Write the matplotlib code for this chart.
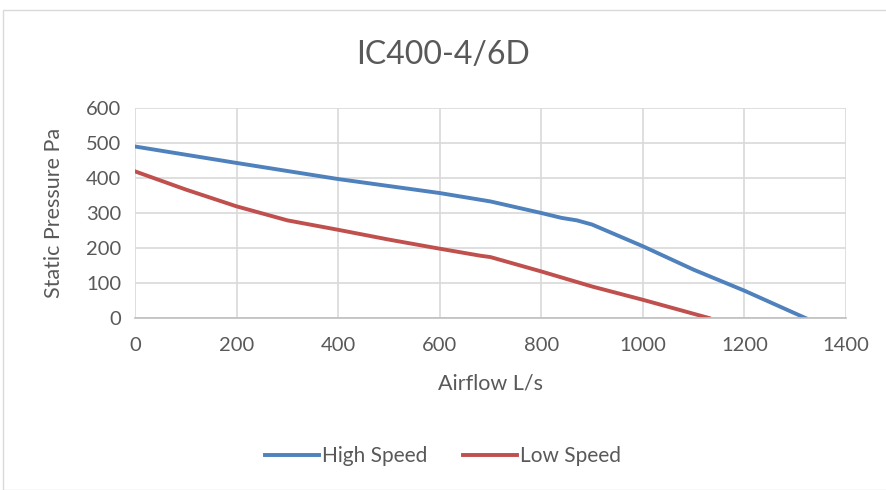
import matplotlib
matplotlib.use('Agg')
import matplotlib.pyplot as plt
from matplotlib.patches import Rectangle

plt.rcParams['font.family'] = ['Lato', 'DejaVu Sans']

# High speed curve
high_x = [0, 200, 400, 600, 700, 800, 840, 870, 900, 1000, 1100, 1200, 1320]
high_y = [490, 443, 397, 357, 333, 300, 286, 279, 267, 205, 138, 78, 0]

# Low speed curve
low_x = [0, 100, 200, 300, 400, 500, 600, 680, 700, 800, 900, 1000, 1130]
low_y = [419, 367, 319, 279, 252, 224, 198, 178, 174, 133, 90, 52, 0]

gray = '#595959'

fig = plt.figure(figsize=(8.86, 4.9), dpi=100)
fig.patches.append(Rectangle((3/886, 0), 1, 1 - 10/490, transform=fig.transFigure,
                             fill=False, edgecolor='#d9d9d9', linewidth=1))
ax = fig.add_axes([135/886, 1 - 318/490, (846-135)/886, (318-108)/490])

ax.plot(high_x, high_y, color='#4f81bd', linewidth=2.8, label='High Speed')
ax.plot(low_x, low_y, color='#c0504d', linewidth=2.8, label='Low Speed')

ax.set_xlim(0, 1400)
ax.set_ylim(0, 600)
ax.set_xticks(range(0, 1401, 200))
ax.set_yticks(range(0, 601, 100))
ax.grid(True, color='#d9d9d9', linewidth=1.2)
ax.set_axisbelow(True)
for s in ['top', 'right', 'left']:
    ax.spines[s].set_visible(False)
ax.spines['bottom'].set_color('#bfbfbf')
ax.spines['bottom'].set_linewidth(1.2)
ax.tick_params(length=0, labelsize=14.5, colors=gray)
ax.tick_params(axis='x', pad=14)
ax.tick_params(axis='y', pad=10)

ax.set_xlabel('Airflow L/s', fontsize=15.5, color=gray, labelpad=14)
ax.set_ylabel('Static Pressure Pa', fontsize=15.5, color=gray, labelpad=16)
fig.text(0.5, 1 - 55/490, 'IC400-4/6D', ha='center', va='center', fontsize=23, color=gray)

fig.legend(loc='center', bbox_to_anchor=(0.5, 1 - 456/490), ncol=2, frameon=False,
           fontsize=15, labelcolor=gray, handlelength=2.6, handletextpad=0.15,
           columnspacing=1.7)

fig.savefig('out.png', dpi=100)
